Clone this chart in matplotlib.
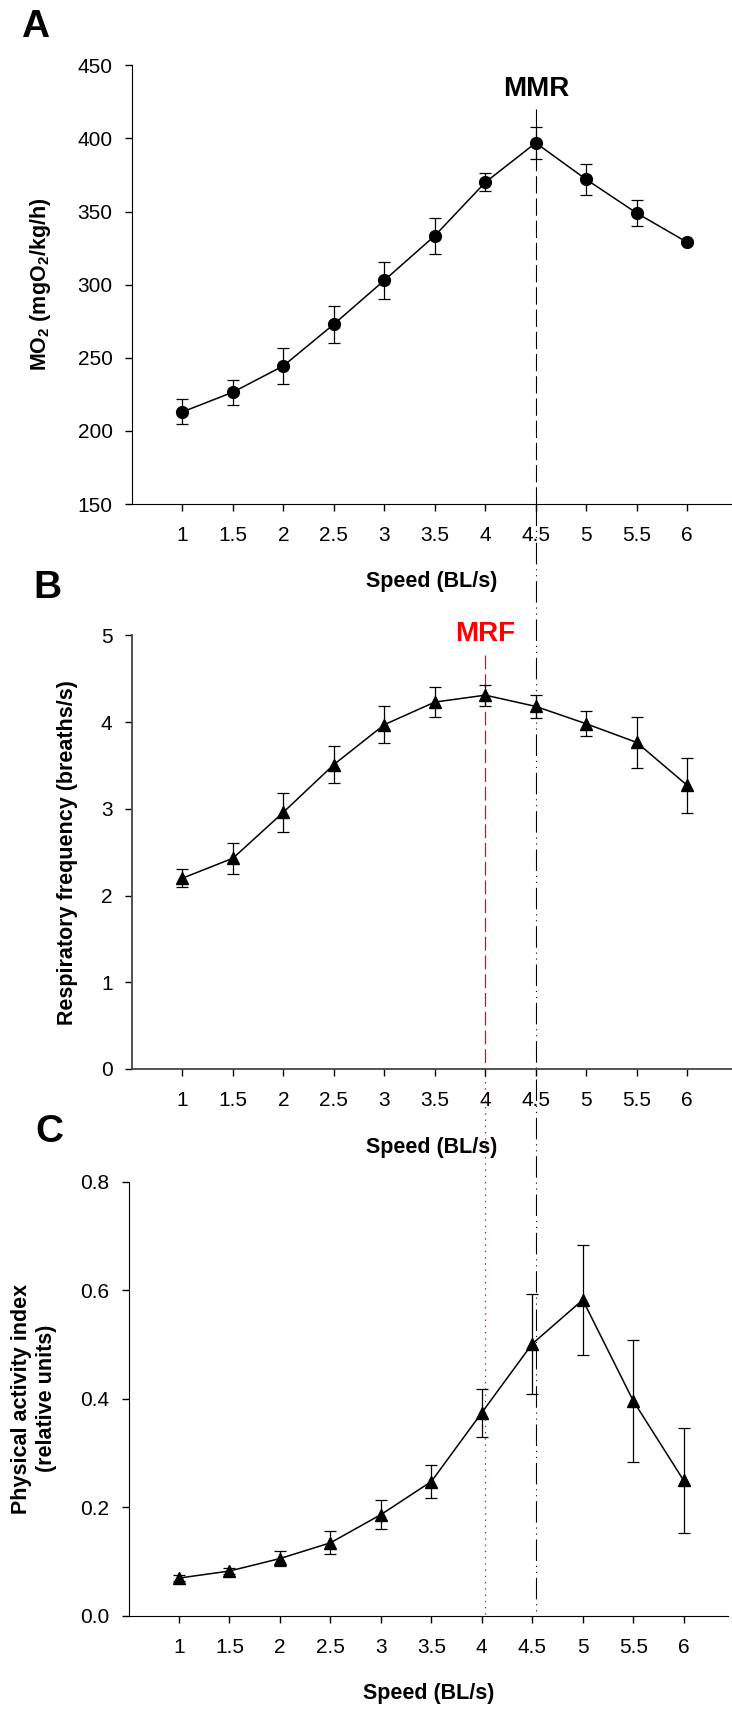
import matplotlib
matplotlib.use('Agg')
import matplotlib.pyplot as plt
from matplotlib.lines import Line2D
import numpy as np

plt.rcParams['font.family'] = ['Liberation Sans', 'DejaVu Sans']
plt.rcParams['mathtext.fontset'] = 'custom'
plt.rcParams['mathtext.rm'] = 'Liberation Sans'
plt.rcParams['mathtext.bf'] = 'Liberation Sans:bold'
plt.rcParams['lines.scale_dashes'] = False

# speeds (BL/s)
speed = [1, 1.5, 2, 2.5, 3, 3.5, 4, 4.5, 5, 5.5, 6]
speed_labels = ['1', '1.5', '2', '2.5', '3', '3.5', '4', '4.5', '5', '5.5', '6']

# A: oxygen uptake
mo2 = [213, 226.5, 244.5, 273, 303, 333.5, 370, 397, 372, 349, 329]
mo2_se = [8.6, 8.6, 12.3, 12.6, 12.7, 12.3, 6.2, 10.8, 10.5, 9.0, 0.0]

# B: respiratory frequency
resp = [2.2, 2.43, 2.96, 3.51, 3.97, 4.23, 4.31, 4.18, 3.98, 3.765, 3.27]
resp_se = [0.10, 0.18, 0.225, 0.21, 0.215, 0.17, 0.12, 0.135, 0.145, 0.29, 0.315]

# C: physical activity index
act = [0.069, 0.082, 0.105, 0.134, 0.186, 0.247, 0.374, 0.501, 0.582, 0.396, 0.249]
act_se = [0.006, 0.006, 0.014, 0.021, 0.027, 0.030, 0.044, 0.092, 0.102, 0.112, 0.097]

mmr_speed = 4.5
mrf_speed = 4.0

W, H = 732, 1711
fig = plt.figure(figsize=(W / 100, H / 100), dpi=100)

xlim = (0.5, 6.44)
unit = 100.94
wpx = (xlim[1] - xlim[0]) * unit


def make_ax(left, top, bottom):
    ax = fig.add_axes([left / W, 1 - bottom / H, wpx / W, (bottom - top) / H])
    ax.patch.set_alpha(0)
    for s in ('top', 'right'):
        ax.spines[s].set_visible(False)
    ax.set_xlim(*xlim)
    ax.set_xticks(speed)
    ax.set_xticklabels(speed_labels)
    ax.tick_params(direction='out', length=5, width=1, labelsize=15)
    ax.tick_params(axis='x', pad=11)
    ax.tick_params(axis='y', pad=9)
    return ax, bottom - top


ax_a, ha = make_ax(132, 65.4, 504)
ax_b, hb = make_ax(132, 635.3, 1069)
ax_c, hc = make_ax(128.5, 1181.7, 1615.5)

kw = dict(color='black', lw=1.1, ecolor='black', elinewidth=0.9, capsize=4.5,
          capthick=0.9, markersize=8.5, zorder=3)
ax_a.errorbar(speed, mo2, yerr=mo2_se, marker='o', **kw)
ax_b.errorbar(speed, resp, yerr=resp_se, marker='^', **kw)
ax_c.errorbar(speed, act, yerr=act_se, marker='^', **kw)

ax_a.set_ylim(150, 450)
ax_a.set_yticks(np.arange(150, 451, 50))
ax_b.set_ylim(0, 5)
ax_b.set_yticks(range(0, 6))
ax_c.set_ylim(0, 0.8)
ax_c.set_yticks(np.arange(0, 0.81, 0.2))
ax_c.set_yticklabels(['%.1f' % v for v in np.arange(0, 0.81, 0.2)])

for sp in ax_b.spines.values():
    sp.set_color('#444444')
    sp.set_linewidth(1.3)

lab = dict(fontsize=15.5, fontweight='bold')
for ax, h in ((ax_a, ha), (ax_b, hb), (ax_c, hc)):
    ax.set_xlabel('Speed (BL/s)', **lab)
    ax.xaxis.set_label_coords(0.5, -78 / h)
    ax.xaxis.label.set_va('center')

ax_a.set_ylabel(r'MO$_\mathbf{2}$ (mgO$_\mathbf{2}$/kg/h)', **lab)
ax_a.yaxis.set_label_coords((41 - 132) / wpx, 0.5)
ax_b.set_ylabel('Respiratory frequency (breaths/s)', **lab)
ax_b.yaxis.set_label_coords((68 - 132) / wpx, 0.5)
ax_c.set_ylabel('Physical activity index\n(relative units)', linespacing=1.25, **lab)
ax_c.yaxis.set_label_coords((34 - 128.5) / wpx, 0.5)
for ax in (ax_a, ax_b, ax_c):
    ax.yaxis.label.set_va('center')

# panel letters
for letter, x, y in (('A', 35, 27), ('B', 47, 588), ('C', 49, 1132)):
    fig.text(x / W, 1 - y / H, letter, fontsize=28, fontweight='bold',
             ha='center', va='center')

ax_a.text(mmr_speed, 425, 'MMR', fontsize=20, fontweight='bold',
          ha='center', va='bottom')
ax_b.text(mrf_speed, 4.87, 'MRF', fontsize=20, fontweight='bold', color='red',
          ha='center', va='bottom')


def to_fig(ax, x, y):
    return fig.transFigure.inverted().transform(ax.transData.transform((x, y)))


# MMR line: dashed in A, dash-dot-dot below
ax_a.plot([mmr_speed, mmr_speed], [420, 150], color='black', lw=0.8,
          dashes=(12.5, 3.5), zorder=1)
p0 = to_fig(ax_a, mmr_speed, 150)
p1 = to_fig(ax_c, 0, 0)
fig.add_artist(Line2D([p0[0], p0[0]], [p0[1], p1[1]], transform=fig.transFigure,
                      color='black', lw=0.8, zorder=-1,
                      dashes=(15.5, 3.5, 0.8, 3.5, 0.8, 3.5)))

# MRF line: red dashed in B, red dotted in C
ax_b.plot([mrf_speed, mrf_speed], [4.77, 0], color='red', lw=0.9,
          dashes=(10, 3.5), zorder=1)
q0 = to_fig(ax_b, mrf_speed, 0)
fig.add_artist(Line2D([q0[0], q0[0]], [q0[1], p1[1]], transform=fig.transFigure,
                      color='red', lw=0.9, zorder=-1, dashes=(1, 3.5)))

fig.savefig('out.png', dpi=100)
